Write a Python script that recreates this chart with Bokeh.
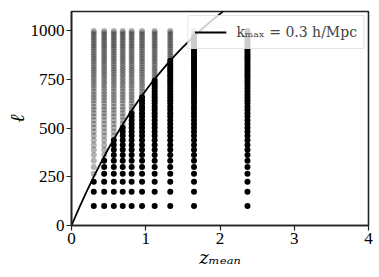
import numpy as np
from bokeh.plotting import figure
from bokeh.models import FixedTicker, Legend, LegendItem
from bokeh.embed import file_html
from bokeh.resources import INLINE

# redshift of each tomographic bin (column positions)
z_bins = [0.30, 0.44, 0.57, 0.69, 0.81, 0.95, 1.12, 1.33, 1.65, 2.37]

# multipoles sampled in every bin
ell_values = [100, 174, 225, 266, 301, 333, 362, 389, 414, 438,
              461, 482, 502, 522, 541, 560, 577, 595, 611, 628,
              644, 659, 674, 689, 704, 718, 732, 745, 759, 772,
              785, 798, 810, 823, 835, 847, 859, 870, 882, 893,
              905, 916, 927, 937, 948, 959, 969, 980, 990, 1000]

# k_max = 0.3 h/Mpc cut curve, ell_max(z)
curve_z = [0.0, 0.1, 0.2, 0.3, 0.4, 0.5, 0.6, 0.7, 0.8, 0.9, 1.0, 1.1,
           1.2, 1.3, 1.4, 1.5, 1.6, 1.7, 1.8, 1.9, 2.0, 2.1, 2.2]
curve_ell = [0, 88, 172, 251, 326, 397, 463, 526, 586, 641, 694, 744,
             790, 835, 877, 917, 954, 990, 1024, 1057, 1088, 1118, 1146]

x_ticks = [0, 1, 2, 3, 4]
y_ticks = [0, 250, 500, 750, 1000]

kept_z, kept_l, cut_z, cut_l = [], [], [], []
for z in z_bins:
    lmax = np.interp(z, curve_z, curve_ell)
    for l in ell_values:
        if l <= lmax:
            kept_z.append(z); kept_l.append(l)
        else:
            cut_z.append(z); cut_l.append(l)

FONT = "Liberation Serif"

p = figure(width=379, height=277, x_range=(0, 4), y_range=(0, 1100),
           output_backend="svg", toolbar_location=None,
           min_border_left=71, min_border_right=11, min_border_top=11, min_border_bottom=52)
p.grid.visible = False
p.outline_line_color = "#222222"
p.outline_line_width = 1.6
p.background_fill_color = "white"
p.border_fill_color = "white"

p.scatter(cut_z, cut_l, size=6, color="black", alpha=0.3, line_color=None)
p.scatter(kept_z, kept_l, size=6, color="black", line_color=None)
ln = p.line(curve_z, curve_ell, line_color="black", line_width=1.8)

for ax in (p.xaxis[0], p.yaxis[0]):
    ax.axis_line_color = "#222222"
    ax.axis_line_width = 1.6
    ax.major_tick_line_color = "#222222"
    ax.major_tick_line_width = 1.2
    ax.major_tick_out = 5
    ax.major_tick_in = 0
    ax.minor_tick_line_color = None
    ax.major_label_text_font = FONT
    ax.major_label_text_font_size = "17px"
    ax.major_label_text_color = "black"
    ax.axis_label_text_color = "black"

p.xaxis[0].ticker = FixedTicker(ticks=x_ticks)
p.yaxis[0].ticker = FixedTicker(ticks=y_ticks)
p.xaxis[0].major_label_standoff = 2
p.yaxis[0].major_label_standoff = 2

p.xaxis[0].axis_label = "zₘₑₐₙ"
p.xaxis[0].axis_label_text_font = "DejaVu Serif"
p.xaxis[0].axis_label_text_font_size = "18px"
p.xaxis[0].axis_label_standoff = 0
p.yaxis[0].axis_label = "ℓ"
p.yaxis[0].axis_label_text_font = FONT
p.yaxis[0].axis_label_text_font_size = "20px"
p.yaxis[0].axis_label_standoff = 0

legend = Legend(items=[LegendItem(label="kₘₐₓ = 0.3 h/Mpc", renderers=[ln])],
                location="top_right", margin=4, padding=6, spacing=0,
                glyph_width=32, glyph_height=20, label_standoff=10,
                label_text_font="DejaVu Serif", label_text_font_size="14px",
                background_fill_alpha=0.8, border_line_color="#cccccc",
                border_line_width=1)
p.add_layout(legend, "center")

open("out.html", "w").write(file_html(p, INLINE))
